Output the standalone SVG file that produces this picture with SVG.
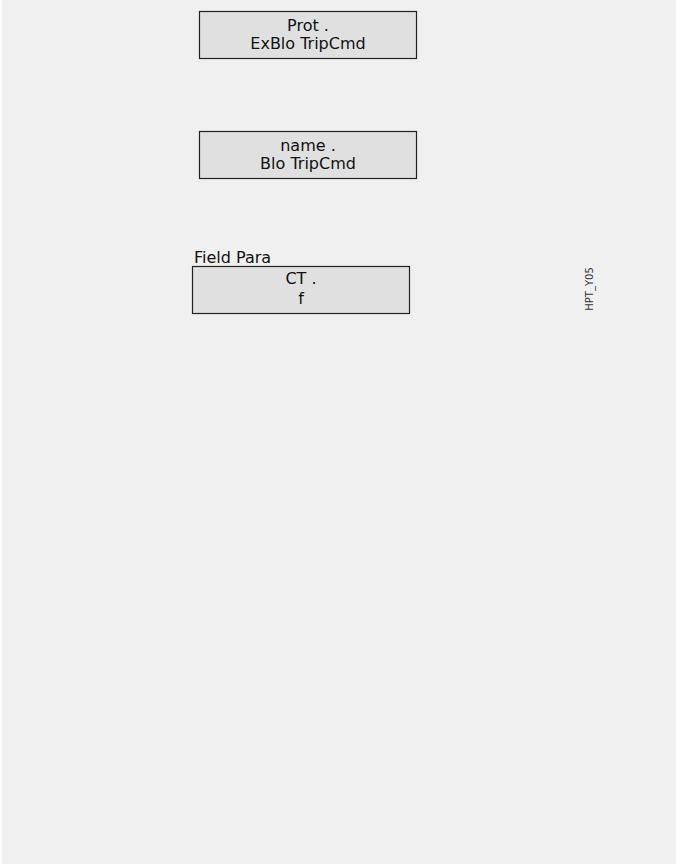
<svg xmlns="http://www.w3.org/2000/svg" width="676" height="864" viewBox="0 0 676 864">
<style>
.box{fill:#e0e0e0;stroke:#222;stroke-width:1.2}
.t{font-family:"DejaVu Sans",sans-serif;font-size:16px;fill:#111;text-anchor:middle}
.l{font-family:"DejaVu Sans",sans-serif;font-size:16px;fill:#111}
.s{font-family:"DejaVu Sans",sans-serif;font-size:10px;fill:#333;text-anchor:middle}
</style>
<rect x="0" y="0" width="676" height="864" fill="#ffffff"/>
<rect x="2" y="0" width="674" height="864" fill="#f0f0f0"/>
<g id="node-prot">
<rect class="box" x="199.5" y="11.5" width="217" height="47"/>
<text class="t" x="308" y="31">Prot .</text>
<text class="t" x="308" y="49">ExBlo TripCmd</text>
</g>
<g id="node-name">
<rect class="box" x="199.5" y="131.5" width="217" height="47"/>
<text class="t" x="308" y="151">name .</text>
<text class="t" x="308" y="169">Blo TripCmd</text>
</g>
<g id="node-ct">
<text class="l" x="194" y="263">Field Para</text>
<rect class="box" x="192.5" y="266.5" width="217" height="47"/>
<text class="t" x="301" y="284">CT .</text>
<text class="t" x="301" y="304">f</text>
</g>
<g id="connectors"></g>
<text class="s" transform="translate(593,289) rotate(-90)">HPT_Y05</text>
</svg>
